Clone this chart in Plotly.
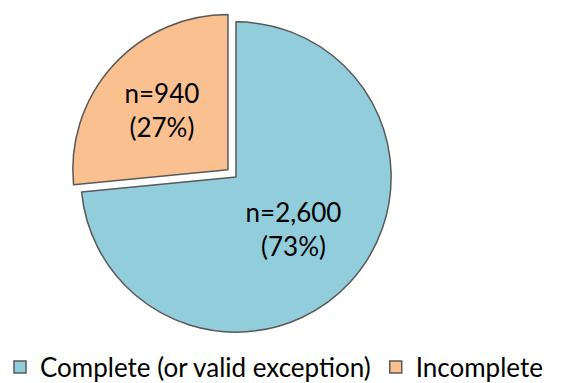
import plotly.graph_objects as go

labels = ["Complete (or valid exception)", "Incomplete"]
counts = [2600, 940]
pcts = [73, 27]
colors = ["#92CDDC", "#FAC090"]
pulls = [0, 0.07]

texts = [f"n={c:,}<br>({p}%)" for c, p in zip(counts, pcts)]

W, H = 562, 383
fig = go.Figure(go.Pie(
    labels=labels,
    values=counts,
    text=texts,
    textinfo="text",
    textposition="inside",
    insidetextorientation="horizontal",
    sort=False,
    direction="clockwise",
    rotation=0,
    pull=pulls,
    marker=dict(colors=colors, line=dict(color="#595959", width=1.5)),
    textfont=dict(family="Lato", size=26, color="#000000"),
    domain=dict(x=[70 / W, 402 / W], y=[1 - 343 / H, 1 - 11 / H]),
))

fig.update_layout(
    width=W, height=H,
    margin=dict(l=0, r=0, t=0, b=0, autoexpand=False),
    paper_bgcolor="white",
    showlegend=True,
    legend=dict(
        orientation="h",
        x=0, xanchor="left",
        y=1 - 367 / H, yanchor="middle",
        font=dict(family="Lato", size=26, color="#000000"),
        itemwidth=30,
    ),
)

fig.write_html("out.html")
